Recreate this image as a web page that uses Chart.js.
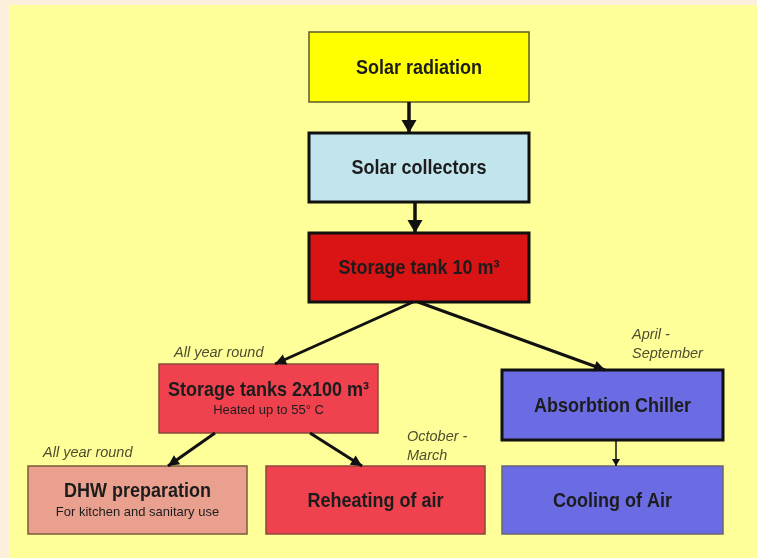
<!DOCTYPE html>
<html>
<head>
<meta charset="utf-8">
<script src="https://cdn.jsdelivr.net/npm/chart.js@4.4.1/dist/chart.umd.min.js"></script>
<style>
  html, body { margin: 0; padding: 0; background: #fcf0dd; }
  #flow { display: block; }
</style>
</head>
<body>
<canvas id="flow" width="757" height="558"></canvas>
<script>
// Flow chart nodes (diagram units = page pixels, y grows downwards)
const boxLabels = ['Solar radiation', 'Solar collectors', 'Storage tank 10 m\u00b3', 'Storage tanks 2x100 m\u00b3',
  'DHW preparation', 'Reheating of air', 'Absorbtion Chiller', 'Cooling of Air'];
const boxNotes = ['', '', '', 'Heated up to 55\u00b0 C', 'For kitchen and sanitary use', '', '', ''];
const boxLeft = [309, 309, 309, 159, 28, 266, 502, 502];
const boxRight = [529, 529, 529, 378, 247, 485, 723, 723];
const boxTop = [32, 133, 233, 364, 466, 466, 370, 466];
const boxBottom = [102, 202, 302, 433, 534, 534, 440, 534];

// Arrows between nodes
const flowX0 = [409, 415, 413, 418, 215, 310, 616];
const flowY0 = [102, 202, 302, 302, 433, 433, 440];
const flowX1 = [409, 415, 275, 605, 168, 362, 616];
const flowY1 = [133, 233, 364, 370, 466, 466, 466];

// Season notes next to the arrows
const seasonText = [['All year round'], ['April -', 'September'], ['All year round'], ['October -', 'March']];
const seasonX = [174, 632, 43, 407];
const seasonY = [353, 335, 453, 437];

// styles
const boxFill = ['#ffff00', '#c2e4ec', '#da1414', '#ef424e', '#e9a08f', '#ef424e', '#6b6be3', '#6b6be3'];
const boxEdge = ['#5b5b2b', '#111111', '#111111', '#8a4a3a', '#7a5a3a', '#8a4a3a', '#111111', '#666677'];
const boxEdgeWidth = [1.5, 3, 3, 1.5, 1.5, 1.5, 3, 1.5];
const flowWidth = [3.5, 3.5, 3, 3, 3, 3, 1.5];
const headSize = [[13, 7.5], [13, 7.5], [11, 5.5], [11, 5.5], [11, 5.5], [11, 5.5], [7, 4]];

const FONT = '"Liberation Sans", Arial, sans-serif';

const datasets = flowX0.map((x, i) => ({
  data: [{ x: x, y: flowY0[i] }, { x: flowX1[i], y: flowY1[i] }],
  showLine: true,
  borderColor: '#111111',
  borderWidth: flowWidth[i],
  pointRadius: 0,
  pointHoverRadius: 0,
  borderCapStyle: 'butt'
}));

// text in the source picture is a bit taller than it is wide
function tallText(ctx, txt, x, y, stretch) {
  ctx.save();
  ctx.translate(x, y);
  ctx.scale(1, stretch);
  ctx.fillText(txt, 0, 0);
  ctx.restore();
}

const flowPlugin = {
  id: 'flowPlugin',
  beforeDraw(chart) {
    const ctx = chart.ctx;
    const xs = chart.scales.x, ys = chart.scales.y;
    ctx.save();
    ctx.fillStyle = '#fcf0dd';
    ctx.fillRect(0, 0, chart.width, chart.height);
    ctx.fillStyle = '#ffff99';
    const px = xs.getPixelForValue(9), py = ys.getPixelForValue(5);
    ctx.fillRect(px, py, xs.getPixelForValue(757) - px, ys.getPixelForValue(558) - py);
    ctx.restore();
  },
  beforeDatasetsDraw(chart) {
    const ctx = chart.ctx;
    const xs = chart.scales.x, ys = chart.scales.y;
    ctx.save();
    boxLabels.forEach((label, i) => {
      const l = xs.getPixelForValue(boxLeft[i]);
      const r = xs.getPixelForValue(boxRight[i]);
      const t = ys.getPixelForValue(boxTop[i]);
      const b = ys.getPixelForValue(boxBottom[i]);
      ctx.fillStyle = boxFill[i];
      ctx.fillRect(l, t, r - l, b - t);
      ctx.strokeStyle = boxEdge[i];
      ctx.lineWidth = boxEdgeWidth[i];
      ctx.strokeRect(l, t, r - l, b - t);
    });
    ctx.restore();
  },
  afterDatasetsDraw(chart) {
    const ctx = chart.ctx;
    const xs = chart.scales.x, ys = chart.scales.y;
    ctx.save();

    // arrow heads at the end of each flow line
    chart.data.datasets.forEach((ds, i) => {
      const pts = chart.getDatasetMeta(i).data;
      const a = pts[0], b = pts[1];
      const ang = Math.atan2(b.y - a.y, b.x - a.x);
      const [len, half] = headSize[i];
      ctx.fillStyle = '#111111';
      ctx.beginPath();
      ctx.moveTo(b.x, b.y);
      ctx.lineTo(b.x - len * Math.cos(ang) + half * Math.sin(ang), b.y - len * Math.sin(ang) - half * Math.cos(ang));
      ctx.lineTo(b.x - len * Math.cos(ang) - half * Math.sin(ang), b.y - len * Math.sin(ang) + half * Math.cos(ang));
      ctx.closePath();
      ctx.fill();
    });

    // box texts
    ctx.textAlign = 'center';
    ctx.textBaseline = 'middle';
    boxLabels.forEach((label, i) => {
      const cx = xs.getPixelForValue((boxLeft[i] + boxRight[i]) / 2);
      const cy = ys.getPixelForValue((boxTop[i] + boxBottom[i]) / 2);
      ctx.fillStyle = '#1c1c1c';
      ctx.font = 'bold 18px ' + FONT;
      if (boxNotes[i]) {
        tallText(ctx, label, cx, cy - 8, 1.1);
        ctx.font = '13px ' + FONT;
        tallText(ctx, boxNotes[i], cx, cy + 12, 1.05);
      } else {
        tallText(ctx, label, cx, cy + 1.5, 1.1);
      }
    });

    // season notes
    ctx.textAlign = 'left';
    ctx.font = 'italic 14.5px ' + FONT;
    ctx.fillStyle = '#4e4e30';
    seasonText.forEach((lines, i) => {
      lines.forEach((txt, k) => {
        tallText(ctx, txt, xs.getPixelForValue(seasonX[i]), ys.getPixelForValue(seasonY[i] + k * 19), 1.05);
      });
    });
    ctx.restore();
  }
};

new Chart(document.getElementById('flow'), {
  type: 'scatter',
  data: { datasets },
  options: {
    responsive: false,
    animation: false,
    events: [],
    layout: { padding: 0 },
    scales: {
      x: { type: 'linear', min: 0, max: 757, display: false },
      y: { type: 'linear', min: 0, max: 558, reverse: true, display: false }
    },
    plugins: {
      legend: { display: false },
      tooltip: { enabled: false }
    }
  },
  plugins: [flowPlugin]
});
</script>
</body>
</html>
